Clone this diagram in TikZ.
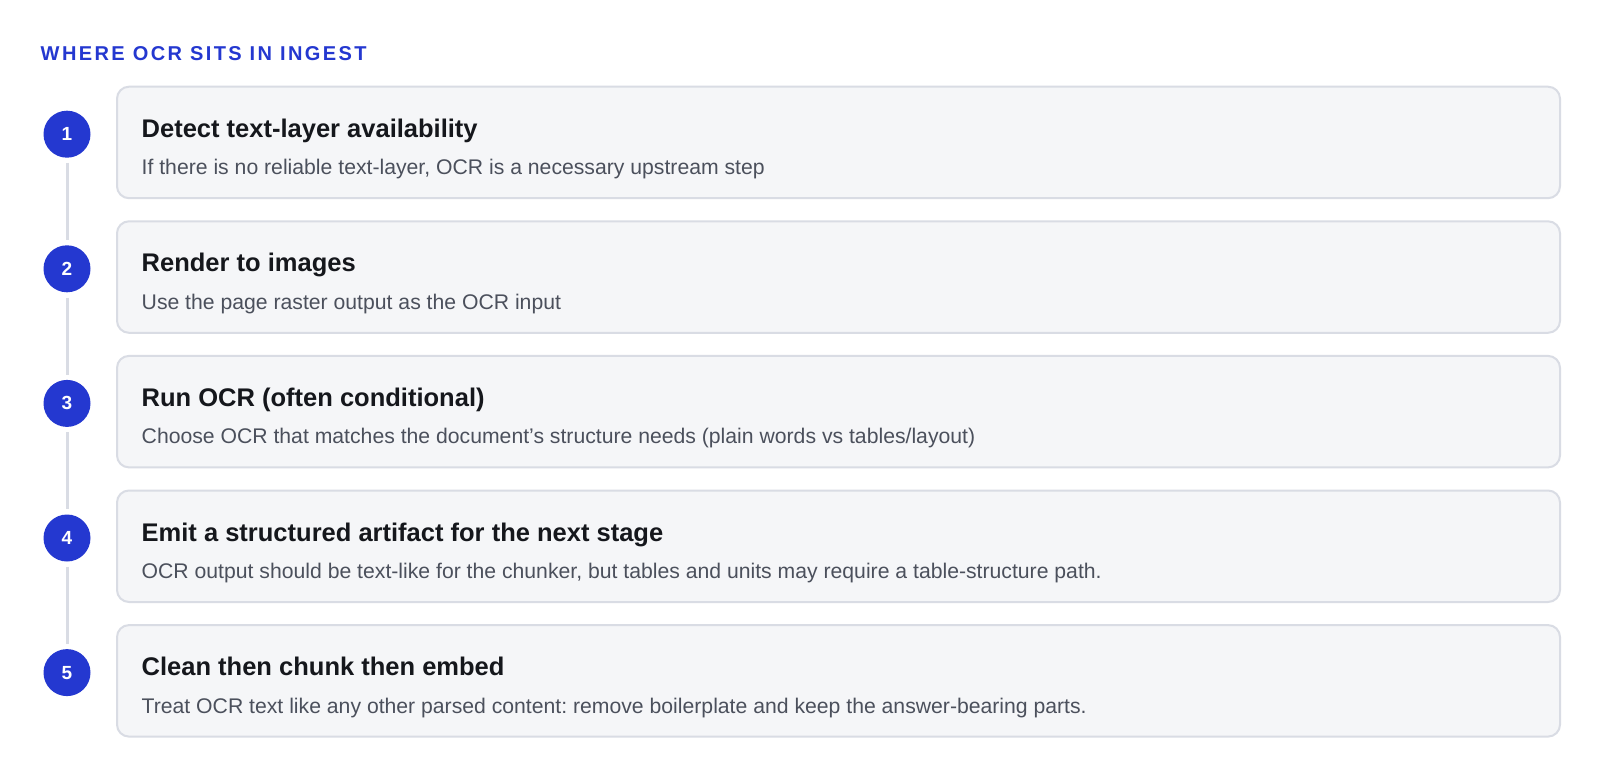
\documentclass[tikz,border=0pt]{standalone}
\usepackage{fontspec}
\setmainfont{Liberation Sans}
\newfontfamily\hdrfont[LetterSpace=12]{Liberation Sans}
\definecolor{accent}{HTML}{2438D0}
\definecolor{cardfill}{HTML}{F5F6F8}
\definecolor{cardline}{HTML}{D9DCE4}
\definecolor{titletext}{HTML}{15171C}
\definecolor{subtext}{HTML}{4B505C}
\newlength\fitlen
\newcommand\fitfont[3]{\settowidth\fitlen{\fontsize{10pt}{12pt}\selectfont #3}\pgfmathsetmacro#1{10*#2/\fitlen}}
\frenchspacing
\begin{document}
\fitfont\titlesize{336}{\bfseries Detect text-layer availability}%
\fitfont\subsize{960}{OCR output should be text-like for the chunker, but tables and units may require a table-structure path.}%
\fitfont\hdrsize{326}{\hdrfont\bfseries WHERE OCR SITS IN INGEST}%
\def\numsize{19}%
\begin{tikzpicture}[x=1pt,y=-1pt,
  card/.style={draw=cardline, line width=2pt, fill=cardfill, rounded corners=12pt,
    minimum width=1443pt, minimum height=111.5pt, inner sep=0pt},
  stepnum/.style={circle, fill=accent, minimum size=47pt, inner sep=0pt,
    text=white, font=\fontsize{\numsize}{\numsize}\selectfont\bfseries},
  cardtitle/.style={anchor=base west, inner sep=0pt, text=titletext,
    font=\fontsize{\titlesize}{\titlesize}\selectfont\bfseries},
  cardsub/.style={anchor=base west, inner sep=0pt, text=subtext,
    font=\fontsize{\subsize}{\subsize}\selectfont},
  header/.style={anchor=base west, inner sep=0pt, text=accent,
    font=\fontsize{\hdrsize}{\hdrsize}\hdrfont\bfseries},
  conn/.style={draw=cardline, line width=3pt, shorten >=5pt, shorten <=5pt}]
\useasboundingbox[fill=white] (0,0) rectangle (1600,778);

\node[header] (hdr) at (40.5,60.5) {WHERE OCR SITS IN INGEST};

\foreach \i/\t/\s in {
  1/{Detect text-layer availability}/{If there is no reliable text-layer, OCR is a necessary upstream step},
  2/{Render to images}/{Use the page raster output as the OCR input},
  3/{Run OCR (often conditional)}/{Choose OCR that matches the document’s structure needs (plain words vs tables/layout)},
  4/{Emit a structured artifact for the next stage}/{OCR output should be text-like for the chunker, but tables and units may require a table-structure path.},
  5/{Clean then chunk then embed}/{Treat OCR text like any other parsed content: remove boilerplate and keep the answer-bearing parts.}}{
  \pgfmathsetmacro\top{86.7+134.6*(\i-1)}
  \node[card] (card\i) at (838.5,\top+55.75) {};
  \node[stepnum] (num\i) at (67,\top+47.5) {\i};
  \node[cardtitle] (title\i) at (141.5,\top+50.6) {\t};
  \node[cardsub] (sub\i) at (141.5,\top+88) {\s};
}
\foreach \i [evaluate=\i as \j using int(\i+1)] in {1,...,4}{
  \draw[conn] (num\i) -- (num\j);
}
\end{tikzpicture}
\end{document}
